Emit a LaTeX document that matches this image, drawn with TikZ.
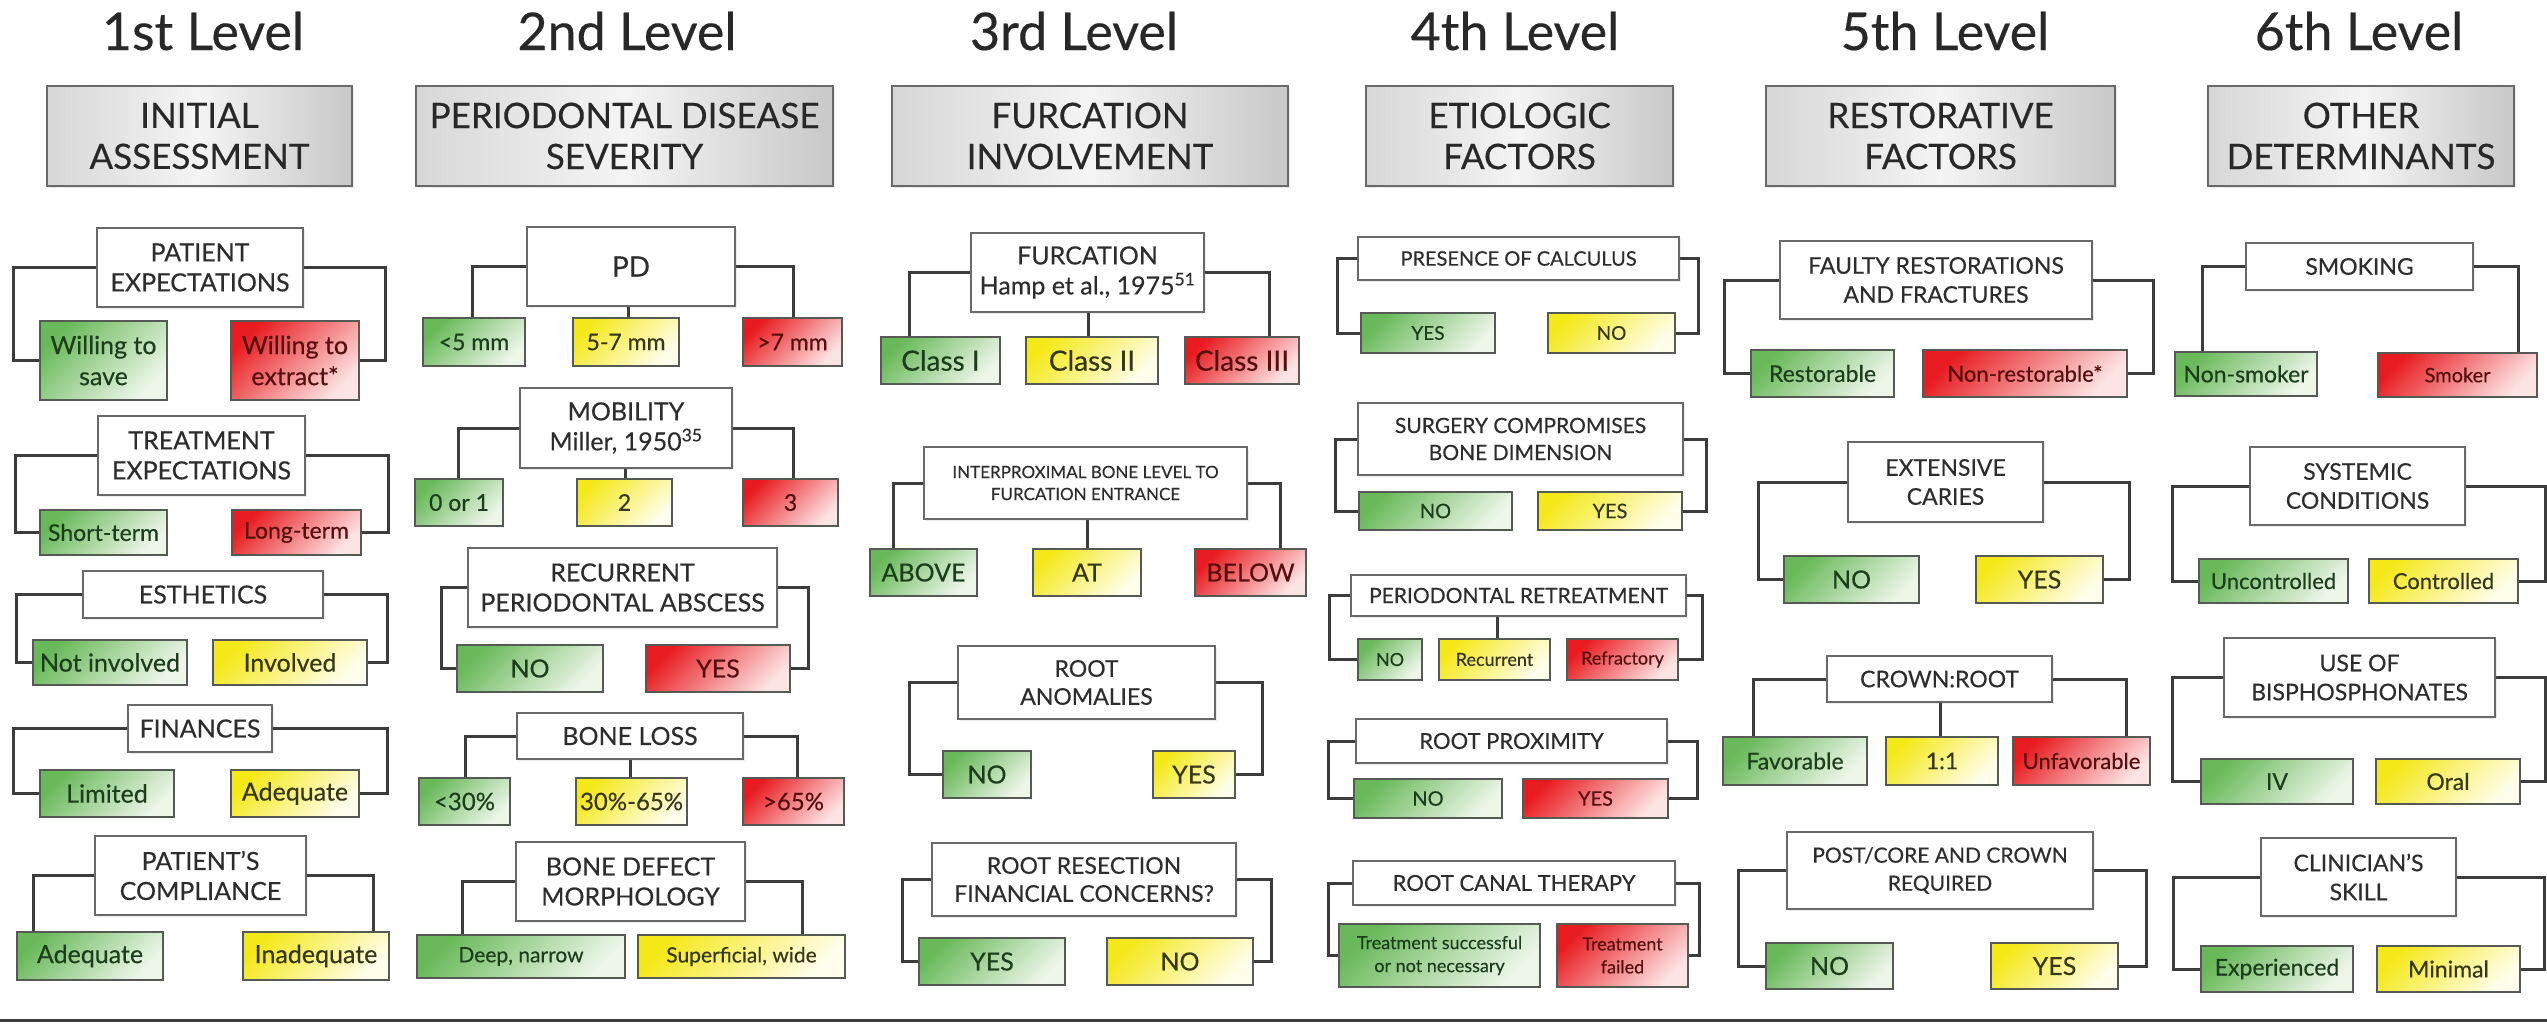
\documentclass[tikz,border=0pt]{standalone}
\usepackage{fontspec}
\setmainfont{Lato}[FakeBold=0.35]
\usetikzlibrary{shadows,calc}
\definecolor{gTL}{RGB}{105,185,90}
\definecolor{gBR}{RGB}{238,246,234}
\definecolor{yTL}{RGB}{245,232,25}
\definecolor{yBR}{RGB}{255,254,236}
\definecolor{rTL}{RGB}{232,28,32}
\definecolor{rBR}{RGB}{252,228,228}
\definecolor{gtext}{RGB}{28,62,28}
\definecolor{ytext}{RGB}{55,55,25}
\definecolor{rtext}{RGB}{85,15,15}
\definecolor{bline}{RGB}{85,90,85}
\definecolor{qline}{RGB}{105,105,105}
\definecolor{qtext}{RGB}{45,45,45}
\definecolor{conncol}{RGB}{60,60,60}
\definecolor{hdrL}{RGB}{215,215,215}
\definecolor{hdrM}{RGB}{244,244,244}
\definecolor{hdrR}{RGB}{200,200,200}
\definecolor{titlecol}{RGB}{40,40,40}
\newcommand\fs[2]{\fontsize{#1}{#2}\selectfont}
\newcommand\mybox[7]{%
  \pgfmathsetmacro\bxw{#5-#3}%
  \pgfmathsetmacro\bxh{#6-#4}%
  \pgfmathsetmacro\bxcx{(#3+#5)/2}%
  \pgfmathsetmacro\bxcy{(#4+#6)/2}%
  \node[#2, minimum width=\bxw pt, minimum height=\bxh pt] (#1) at (\bxcx,\bxcy) {#7};}
\newcommand\sidec[4]{\draw[conn] let \p1=(#1.#4),\p2=(#2.#4) in (#1.#4) -- (#3,\y1) -- (#3,\y2) -- (#2.#4);}
\newcommand\topc[4]{\draw[conn] let \p1=(#1.#4),\p2=(#2.north) in (#1.#4) -- (#3,\y1) -- (#3,\y2);}
\newcommand\midc[3]{\draw[conn] let \p1=(#1.south),\p2=(#2.north) in (#3,\y1) -- (#3,\y2);}
\begin{document}
\begin{tikzpicture}[x=1pt,y=-1pt,
  title/.style={font=\fs{52}{60}, text=titlecol, inner sep=0pt},
  hdr/.style={draw=qline, line width=2pt, left color=hdrL, right color=hdrR, middle color=hdrM,
     align=center, inner sep=0pt, text=titlecol, font=\fs{35}{41},
     drop shadow={opacity=0.18, shadow xshift=2pt, shadow yshift=-2pt}},
  qbox/.style={draw=qline, line width=2.2pt, fill=white, align=center, inner sep=0pt, text=qtext,
     font=\fs{25}{30}, drop shadow={opacity=0.15, shadow xshift=2pt, shadow yshift=-2pt}},
  gbox/.style={draw=bline, line width=2.2pt, top color=gTL, bottom color=gBR, shading angle=45,
     text=gtext, align=center, inner sep=0pt, font=\fs{25}{31}},
  ybox/.style={draw=bline, line width=2.2pt, top color=yTL, bottom color=yBR, shading angle=45,
     text=ytext, align=center, inner sep=0pt, font=\fs{25}{31}},
  rbox/.style={draw=bline, line width=2.2pt, top color=rTL, bottom color=rBR, shading angle=45,
     text=rtext, align=center, inner sep=0pt, font=\fs{25}{31}},
  conn/.style={draw=conncol, line width=3pt}]
\fill[white] (0,0) rectangle (2547,1026);
\useasboundingbox (0,0) rectangle (2547,1026);

% titles
\node[title, anchor=base] (t1) at (203,50) {1st Level};
\node[title, anchor=base] (t2) at (627,50) {2nd Level};
\node[title, anchor=base] (t3) at (1074,50) {3rd Level};
\node[title, anchor=base] (t4) at (1515,50) {4th Level};
\node[title, anchor=base] (t5) at (1945,50) {5th Level};
\node[title, anchor=base] (t6) at (2359,50) {6th Level};

% headers
\mybox{h1}{hdr}{47}{86}{352}{186}{INITIAL\\ASSESSMENT}
\mybox{h2}{hdr}{416}{86}{833}{186}{PERIODONTAL DISEASE\\SEVERITY}
\mybox{h3}{hdr}{892}{86}{1288}{186}{FURCATION\\INVOLVEMENT}
\mybox{h4}{hdr}{1366}{86}{1673}{186}{ETIOLOGIC\\FACTORS}
\mybox{h5}{hdr}{1766}{86}{2115}{186}{RESTORATIVE\\FACTORS}
\mybox{h6}{hdr}{2208}{86}{2514}{186}{OTHER\\DETERMINANTS}

% ---------- column 1
\mybox{q11}{qbox}{97}{228}{303}{307}{PATIENT\\EXPECTATIONS}
\mybox{a11g}{gbox}{40}{321}{167}{400}{Willing to\\save}
\mybox{a11r}{rbox}{231}{321}{359}{400}{Willing to\\extract*}
\sidec{q11}{a11g}{13}{west}
\sidec{q11}{a11r}{385}{east}

\mybox{q12}{qbox}{98}{416}{305}{495}{TREATMENT\\EXPECTATIONS}
\mybox{a12g}{gbox,font=\fs{23}{28}}{40}{510}{167}{555}{Short-term}
\mybox{a12r}{rbox,font=\fs{23}{28}}{232}{510}{361}{555}{Long-term}
\sidec{q12}{a12g}{15}{west}
\sidec{q12}{a12r}{388}{east}

\mybox{q13}{qbox}{83}{571}{323}{618}{ESTHETICS}
\mybox{a13g}{gbox}{33}{640}{187}{685}{Not involved}
\mybox{a13y}{ybox}{213}{640}{367}{685}{Involved}
\sidec{q13}{a13g}{16}{west}
\sidec{q13}{a13y}{387}{east}

\mybox{q14}{qbox}{128}{705}{272}{752}{FINANCES}
\mybox{a14g}{gbox}{40}{770}{174}{817}{Limited}
\mybox{a14y}{ybox}{231}{770}{359}{817}{Adequate}
\sidec{q14}{a14g}{13}{west}
\sidec{q14}{a14y}{387}{east}

\mybox{q15}{qbox}{95}{836}{306}{915}{PATIENT’S\\COMPLIANCE}
\mybox{a15g}{gbox}{17}{932}{163}{980}{Adequate}
\mybox{a15y}{ybox}{243}{932}{389}{980}{Inadequate}
\topc{q15}{a15g}{33}{west}
\topc{q15}{a15y}{373}{east}

% ---------- column 2
\mybox{q21}{qbox,font=\fs{28}{32}}{527}{227}{735}{306}{PD}
\mybox{a21g}{gbox,font=\fs{23}{28}}{423}{318}{525}{366}{<5 mm}
\mybox{a21y}{ybox,font=\fs{23}{28}}{573}{318}{679}{366}{5-7 mm}
\mybox{a21r}{rbox,font=\fs{23}{28}}{743}{318}{842}{366}{>7 mm}
\topc{q21}{a21g}{472}{west}
\midc{q21}{a21y}{628}
\topc{q21}{a21r}{793}{east}

\mybox{q22}{qbox}{520}{388}{732}{468}{MOBILITY\\Miller, 1950\textsuperscript{35}}
\mybox{a22g}{gbox,font=\fs{23}{28}}{415}{479}{503}{526}{0 or 1}
\mybox{a22y}{ybox,font=\fs{23}{28}}{577}{479}{672}{526}{2}
\mybox{a22r}{rbox,font=\fs{23}{28}}{743}{479}{838}{526}{3}
\topc{q22}{a22g}{458}{west}
\midc{q22}{a22y}{625}
\topc{q22}{a22r}{793}{east}

\mybox{q23}{qbox}{468}{548}{777}{627}{RECURRENT\\PERIODONTAL ABSCESS}
\mybox{a23g}{gbox}{457}{645}{603}{692}{NO}
\mybox{a23r}{rbox}{646}{645}{790}{692}{YES}
\sidec{q23}{a23g}{441}{west}
\sidec{q23}{a23r}{808}{east}

\mybox{q24}{qbox}{517}{713}{743}{759}{BONE LOSS}
\mybox{a24g}{gbox,font=\fs{24}{28}}{419}{778}{510}{825}{<30\%}
\mybox{a24y}{ybox,font=\fs{24}{28}}{576}{778}{687}{825}{30\%-65\%}
\mybox{a24r}{rbox,font=\fs{24}{28}}{743}{778}{844}{825}{>65\%}
\topc{q24}{a24g}{465}{west}
\midc{q24}{a24y}{630}
\topc{q24}{a24r}{797}{east}

\mybox{q25}{qbox}{516}{842}{745}{921}{BONE DEFECT\\MORPHOLOGY}
\mybox{a25g}{gbox,font=\fs{21}{26}}{417}{935}{625}{978}{Deep, narrow}
\mybox{a25y}{ybox,font=\fs{21}{26}}{638}{935}{845}{978}{Superficial, wide}
\topc{q25}{a25g}{462}{west}
\topc{q25}{a25y}{802}{east}

% ---------- column 3
\mybox{q31}{qbox}{971}{233}{1204}{312}{FURCATION\\Hamp et al., 1975\textsuperscript{51}}
\mybox{a31g}{gbox,font=\fs{28}{32}}{881}{337}{1000}{384}{Class I}
\mybox{a31y}{ybox,font=\fs{28}{32}}{1026}{337}{1158}{384}{Class II}
\mybox{a31r}{rbox,font=\fs{28}{32}}{1185}{337}{1299}{384}{Class III}
\topc{q31}{a31g}{909}{west}
\midc{q31}{a31y}{1088}
\topc{q31}{a31r}{1269}{east}

\mybox{q32}{qbox,font=\fs{17}{22}}{924}{447}{1247}{519}{INTERPROXIMAL BONE LEVEL TO\\FURCATION ENTRANCE}
\mybox{a32g}{gbox}{870}{549}{977}{596}{ABOVE}
\mybox{a32y}{ybox}{1033}{549}{1141}{596}{AT}
\mybox{a32r}{rbox}{1195}{549}{1306}{596}{BELOW}
\topc{q32}{a32g}{893}{west}
\midc{q32}{a32y}{1087}
\topc{q32}{a32r}{1280}{east}

\mybox{q33}{qbox,font=\fs{23}{28}}{958}{646}{1215}{719}{ROOT\\ANOMALIES}
\mybox{a33g}{gbox}{943}{751}{1031}{798}{NO}
\mybox{a33y}{ybox}{1153}{751}{1235}{798}{YES}
\sidec{q33}{a33g}{909}{west}
\sidec{q33}{a33y}{1262}{east}

\mybox{q34}{qbox,font=\fs{23}{28}}{932}{843}{1236}{916}{ROOT RESECTION\\FINANCIAL CONCERNS?}
\mybox{a34g}{gbox}{919}{938}{1065}{985}{YES}
\mybox{a34y}{ybox}{1107}{938}{1253}{985}{NO}
\sidec{q34}{a34g}{902}{west}
\sidec{q34}{a34y}{1271}{east}

% ---------- column 4
\mybox{q41}{qbox,font=\fs{20}{24}}{1358}{237}{1679}{280}{PRESENCE OF CALCULUS}
\mybox{a41g}{gbox,font=\fs{19}{23}}{1361}{313}{1495}{353}{YES}
\mybox{a41y}{ybox,font=\fs{19}{23}}{1548}{313}{1675}{353}{NO}
\sidec{q41}{a41g}{1337}{west}
\sidec{q41}{a41y}{1698}{east}

\mybox{q42}{qbox,font=\fs{21}{27}}{1358}{403}{1683}{475}{SURGERY COMPROMISES\\BONE DIMENSION}
\mybox{a42g}{gbox,font=\fs{20}{24}}{1359}{492}{1512}{530}{NO}
\mybox{a42y}{ybox,font=\fs{20}{24}}{1538}{492}{1682}{530}{YES}
\sidec{q42}{a42g}{1335}{west}
\sidec{q42}{a42y}{1706}{east}

\mybox{q43}{qbox,font=\fs{21}{25}}{1351}{575}{1686}{616}{PERIODONTAL RETREATMENT}
\mybox{a43g}{gbox,font=\fs{18}{22}}{1358}{639}{1422}{680}{NO}
\mybox{a43y}{ybox,font=\fs{18}{22}}{1439}{639}{1550}{680}{Recurrent}
\mybox{a43r}{rbox,font=\fs{18}{22}}{1567}{639}{1678}{680}{Refractory}
\sidec{q43}{a43g}{1329}{west}
\midc{q43}{a43y}{1497}
\sidec{q43}{a43r}{1702}{east}

\mybox{q44}{qbox,font=\fs{22}{26}}{1356}{719}{1667}{763}{ROOT PROXIMITY}
\mybox{a44g}{gbox,font=\fs{20}{24}}{1354}{779}{1502}{818}{NO}
\mybox{a44r}{rbox,font=\fs{20}{24}}{1523}{779}{1668}{818}{YES}
\sidec{q44}{a44g}{1328}{west}
\sidec{q44}{a44r}{1697}{east}

\mybox{q45}{qbox,font=\fs{22}{26}}{1353}{861}{1675}{905}{ROOT CANAL THERAPY}
\mybox{a45g}{gbox,font=\fs{18}{23}}{1339}{924}{1540}{987}{Treatment successful\\or not necessary}
\mybox{a45r}{rbox,font=\fs{18}{23}}{1557}{924}{1688}{987}{Treatment\\failed}
\sidec{q45}{a45g}{1328}{west}
\sidec{q45}{a45r}{1699}{east}

% ---------- column 5
\mybox{q51}{qbox,font=\fs{23}{29}}{1780}{241}{2092}{319}{FAULTY RESTORATIONS\\AND FRACTURES}
\mybox{a51g}{gbox,font=\fs{23}{28}}{1751}{350}{1894}{397}{Restorable}
\mybox{a51r}{rbox,font=\fs{22}{27}}{1923}{350}{2127}{397}{Non-restorable*}
\sidec{q51}{a51g}{1724}{west}
\sidec{q51}{a51r}{2153}{east}

\mybox{q52}{qbox,font=\fs{23}{29}}{1848}{442}{2043}{522}{EXTENSIVE\\CARIES}
\mybox{a52g}{gbox}{1784}{556}{1919}{603}{NO}
\mybox{a52y}{ybox}{1976}{556}{2103}{603}{YES}
\sidec{q52}{a52g}{1758}{west}
\sidec{q52}{a52y}{2129}{east}

\mybox{q53}{qbox,font=\fs{23}{28}}{1827}{656}{2052}{702}{CROWN:ROOT}
\mybox{a53g}{gbox,font=\fs{23}{28}}{1723}{737}{1867}{785}{Favorable}
\mybox{a53y}{ybox,font=\fs{23}{28}}{1886}{737}{1998}{785}{1:1}
\mybox{a53r}{rbox,font=\fs{22}{27}}{2013}{737}{2150}{785}{Unfavorable}
\topc{q53}{a53g}{1753}{west}
\midc{q53}{a53y}{1940}
\topc{q53}{a53r}{2126}{east}

\mybox{q54}{qbox,font=\fs{21}{28}}{1787}{832}{2093}{909}{POST/CORE AND CROWN\\REQUIRED}
\mybox{a54g}{gbox}{1766}{943}{1893}{989}{NO}
\mybox{a54y}{ybox}{1991}{943}{2118}{989}{YES}
\sidec{q54}{a54g}{1738}{west}
\sidec{q54}{a54y}{2146}{east}

% ---------- column 6
\mybox{q61}{qbox,font=\fs{23}{28}}{2246}{243}{2473}{290}{SMOKING}
\mybox{a61g}{gbox,font=\fs{23}{28}}{2175}{352}{2317}{396}{Non-smoker}
\mybox{a61r}{rbox,font=\fs{20}{24}}{2378}{353}{2537}{397}{Smoker}
\topc{q61}{a61g}{2202}{west}
\topc{q61}{a61r}{2518}{east}

\mybox{q62}{qbox,font=\fs{23}{29}}{2250}{447}{2465}{525}{SYSTEMIC\\CONDITIONS}
\mybox{a62g}{gbox,font=\fs{22}{27}}{2199}{559}{2348}{603}{Uncontrolled}
\mybox{a62y}{ybox,font=\fs{22}{27}}{2369}{559}{2518}{603}{Controlled}
\sidec{q62}{a62g}{2172}{west}
\sidec{q62}{a62y}{2545}{east}

\mybox{q63}{qbox,font=\fs{23}{29}}{2224}{638}{2495}{717}{USE OF\\BISPHOSPHONATES}
\mybox{a63g}{gbox,font=\fs{23}{28}}{2201}{759}{2353}{804}{IV}
\mybox{a63y}{ybox,font=\fs{23}{28}}{2376}{759}{2520}{804}{Oral}
\sidec{q63}{a63g}{2172}{west}
\sidec{q63}{a63y}{2545}{east}

\mybox{q64}{qbox,font=\fs{23}{29}}{2261}{838}{2456}{916}{CLINICIAN’S\\SKILL}
\mybox{a64g}{gbox,font=\fs{23}{28}}{2201}{946}{2353}{992}{Experienced}
\mybox{a64y}{ybox,font=\fs{23}{28}}{2377}{946}{2520}{992}{Minimal}
\sidec{q64}{a64g}{2173}{west}
\sidec{q64}{a64y}{2544}{east}

% bottom rule
\coordinate (bl) at (0,1020);
\coordinate (br) at (2547,1020);
\draw[conn] (bl) -- (br);
\end{tikzpicture}
\end{document}
